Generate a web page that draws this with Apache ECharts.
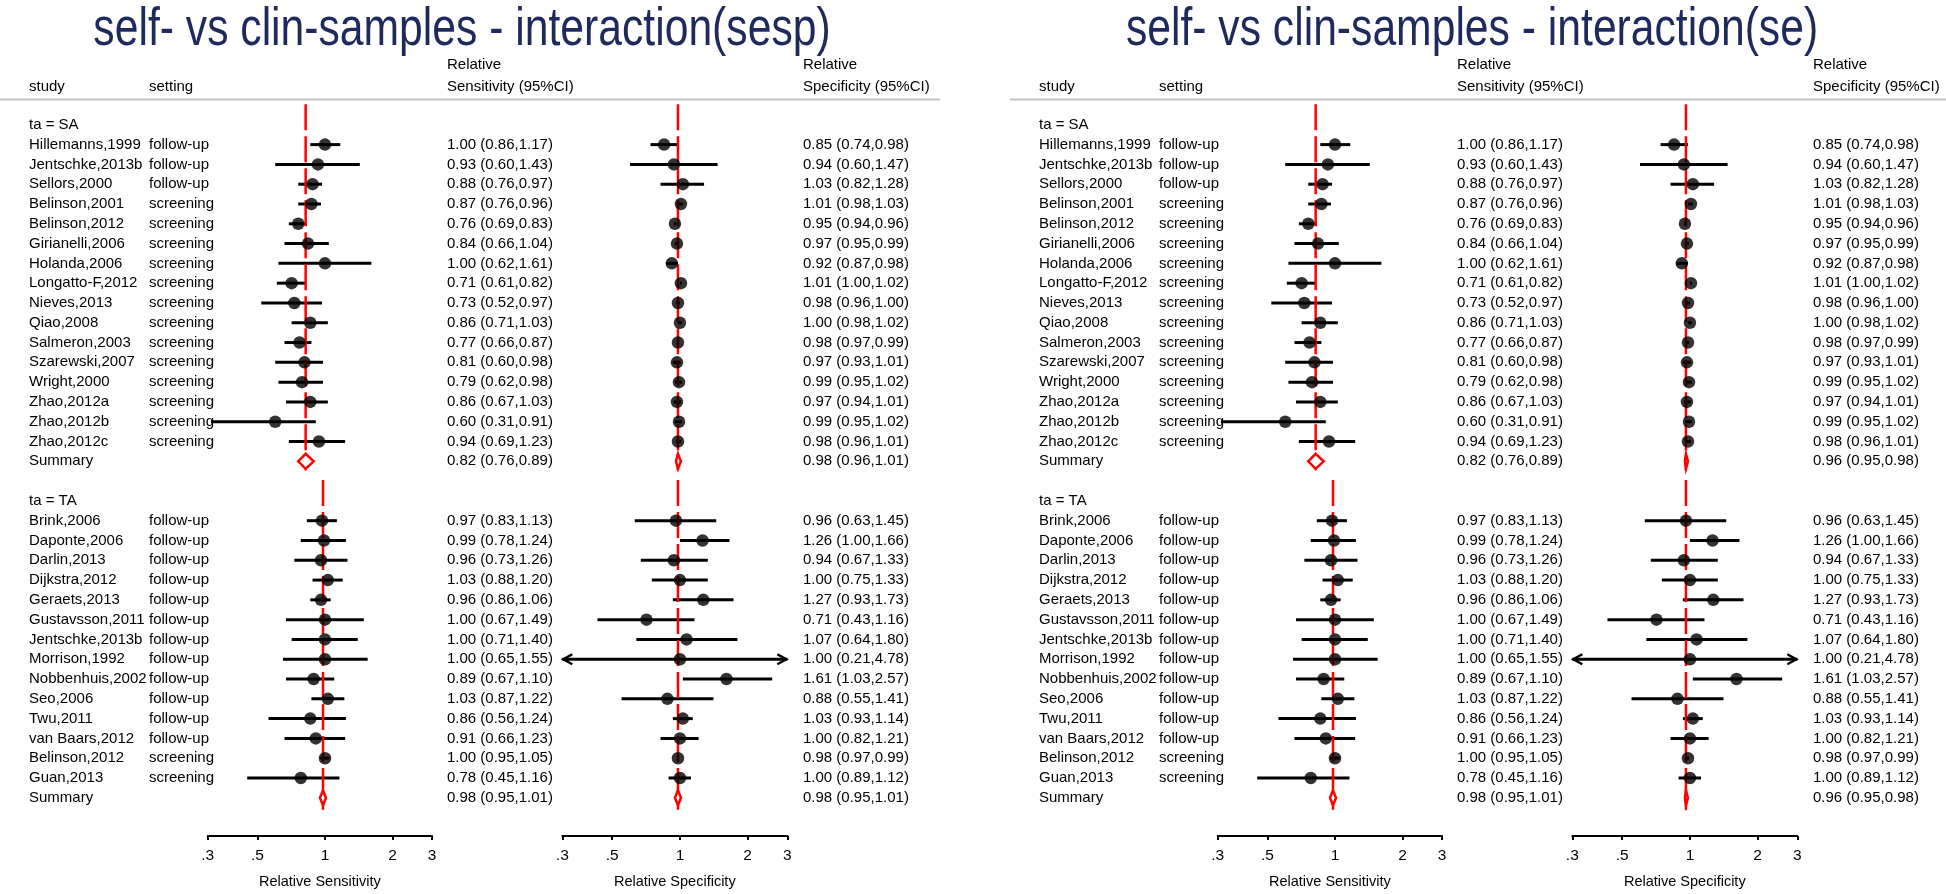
<!DOCTYPE html>
<html><head><meta charset="utf-8">
<script src="https://cdn.jsdelivr.net/npm/echarts@6/dist/echarts.min.js"></script>
<style>html,body{margin:0;padding:0;background:#fff}#c{width:1946px;height:894px}</style>
</head><body><div id="c"></div>
<script>
// ---------------- data ----------------
const saStudy = ['Hillemanns,1999','Jentschke,2013b','Sellors,2000','Belinson,2001','Belinson,2012','Girianelli,2006','Holanda,2006','Longatto-F,2012','Nieves,2013','Qiao,2008','Salmeron,2003','Szarewski,2007','Wright,2000','Zhao,2012a','Zhao,2012b','Zhao,2012c'];
const saSetting = ['follow-up','follow-up','follow-up','screening','screening','screening','screening','screening','screening','screening','screening','screening','screening','screening','screening','screening'];
const saSens   = [1.00,0.93,0.88,0.87,0.76,0.84,1.00,0.71,0.73,0.86,0.77,0.81,0.79,0.86,0.60,0.94];
const saSensLo = [0.86,0.60,0.76,0.76,0.69,0.66,0.62,0.61,0.52,0.71,0.66,0.60,0.62,0.67,0.31,0.69];
const saSensHi = [1.17,1.43,0.97,0.96,0.83,1.04,1.61,0.82,0.97,1.03,0.87,0.98,0.98,1.03,0.91,1.23];
const saSpec   = [0.85,0.94,1.03,1.01,0.95,0.97,0.92,1.01,0.98,1.00,0.98,0.97,0.99,0.97,0.99,0.98];
const saSpecLo = [0.74,0.60,0.82,0.98,0.94,0.95,0.87,1.00,0.96,0.98,0.97,0.93,0.95,0.94,0.95,0.96];
const saSpecHi = [0.98,1.47,1.28,1.03,0.96,0.99,0.98,1.02,1.00,1.02,0.99,1.01,1.02,1.01,1.02,1.01];

const taStudy = ['Brink,2006','Daponte,2006','Darlin,2013','Dijkstra,2012','Geraets,2013','Gustavsson,2011','Jentschke,2013b','Morrison,1992','Nobbenhuis,2002','Seo,2006','Twu,2011','van Baars,2012','Belinson,2012','Guan,2013'];
const taSetting = ['follow-up','follow-up','follow-up','follow-up','follow-up','follow-up','follow-up','follow-up','follow-up','follow-up','follow-up','follow-up','screening','screening'];
const taSens   = [0.97,0.99,0.96,1.03,0.96,1.00,1.00,1.00,0.89,1.03,0.86,0.91,1.00,0.78];
const taSensLo = [0.83,0.78,0.73,0.88,0.86,0.67,0.71,0.65,0.67,0.87,0.56,0.66,0.95,0.45];
const taSensHi = [1.13,1.24,1.26,1.20,1.06,1.49,1.40,1.55,1.10,1.22,1.24,1.23,1.05,1.16];
const taSpec   = [0.96,1.26,0.94,1.00,1.27,0.71,1.07,1.00,1.61,0.88,1.03,1.00,0.98,1.00];
const taSpecLo = [0.63,1.00,0.67,0.75,0.93,0.43,0.64,0.21,1.03,0.55,0.93,0.82,0.97,0.89];
const taSpecHi = [1.45,1.66,1.33,1.33,1.73,1.16,1.80,4.78,2.57,1.41,1.14,1.21,0.99,1.12];

// summaries [estimate, lower, upper]
const saSensSum     = [0.82,0.76,0.89];
const taSensSum     = [0.98,0.95,1.01];
const saSpecSumSesp = [0.98,0.96,1.01];
const taSpecSumSesp = [0.98,0.95,1.01];
const saSpecSumSe   = [0.96,0.95,0.98];
const taSpecSumSe   = [0.96,0.95,0.98];

const tickValues = [0.3,0.5,1,2,3];
const tickLabels = ['.3','.5','1','2','3'];
const titles = ['self- vs clin-samples - interaction(sesp)','self- vs clin-samples - interaction(se)'];

// ---------------- layout ----------------
const FONT = "'Liberation Sans', Arial, sans-serif";
const XMIN = 0.3, XMAX = 3;
const PANEL_OFF = [0, 1010];
const SENS_LEFT = 207.7, SENS_W = 224.3, SPEC_LEFT = 562.3, SPEC_W = 225;
const RH = 19.95, ROW0 = 125, YMIN = -1.2, YMAX = 35.93;
const GRID_TOP = ROW0 + YMIN * RH, GRID_H = (YMAX - YMIN) * RH;
const COLS = [29, 149, 447, 803];

const fmt = v => v.toFixed(2);
const ciText = (e, l, h) => fmt(e) + ' (' + fmt(l) + ',' + fmt(h) + ')';

function buildGroups(specSums) {
  return [
    {label:'ta = SA', head:0, study:saStudy, setting:saSetting, sens:saSens, sensLo:saSensLo, sensHi:saSensHi,
     spec:saSpec, specLo:saSpecLo, specHi:saSpecHi, sensSum:saSensSum, specSum:specSums[0], lineFrom:-1.04, lineTo:17.45},
    {label:'ta = TA', head:19, study:taStudy, setting:taSetting, sens:taSens, sensLo:taSensLo, sensHi:taSensHi,
     spec:taSpec, specLo:taSpecLo, specHi:taSpecHi, sensSum:taSensSum, specSum:specSums[1], lineFrom:17.94, lineTo:34.6}
  ];
}

function ciRender(params, api) {
  const lo = api.value(1), hi = api.value(2), row = api.value(3);
  const a = api.coord([Math.max(lo, XMIN), row]);
  const b = api.coord([Math.min(hi, XMAX), row]);
  const ch = [{type:'line', shape:{x1:a[0], y1:a[1], x2:b[0], y2:b[1]}, style:{stroke:'#000', lineWidth:3}}];
  if (lo < XMIN) ch.push({type:'polyline', shape:{points:[[a[0]+10,a[1]-5],[a[0]+1,a[1]],[a[0]+10,a[1]+5]]}, style:{stroke:'#000', fill:null, lineWidth:2.5}});
  if (hi > XMAX) ch.push({type:'polyline', shape:{points:[[b[0]-10,b[1]-5],[b[0]-1,b[1]],[b[0]-10,b[1]+5]]}, style:{stroke:'#000', fill:null, lineWidth:2.5}});
  return {type:'group', children:ch};
}
function diamondRender(params, api) {
  const e = api.value(0), lo = api.value(1), hi = api.value(2), row = api.value(3);
  const c = api.coord([e, row]), l = api.coord([lo, row]), r = api.coord([hi, row]);
  return {type:'polygon', shape:{points:[[l[0],c[1]],[c[0],c[1]-7.5],[r[0],c[1]],[c[0],c[1]+7.5]]},
          style:{fill:'#fff', stroke:'#ff0000', lineWidth:2.5}};
}

const grids = [], xAxes = [], yAxes = [], series = [], graphics = [];

PANEL_OFF.forEach((off, p) => {
  const groups = buildGroups(p === 0 ? [saSpecSumSesp, taSpecSumSesp] : [saSpecSumSe, taSpecSumSe]);
  const gi = grids.length;
  grids.push({left: off + SENS_LEFT, width: SENS_W, top: GRID_TOP, height: GRID_H, containLabel:false});
  grids.push({left: off + SPEC_LEFT, width: SPEC_W, top: GRID_TOP, height: GRID_H, containLabel:false});
  ['Relative Sensitivity','Relative Specificity'].forEach((nm, j) => {
    xAxes.push({
      gridIndex: gi + j, type:'log', logBase:10, min:XMIN, max:XMAX, position:'bottom',
      axisLine:{show:true, onZero:false, lineStyle:{color:'#000', width:2}},
      axisTick:{show:true, customValues:tickValues, length:4, lineStyle:{color:'#000', width:2}},
      axisLabel:{show:true, customValues:tickValues, margin:12, color:'#000', fontSize:15.5, fontFamily:FONT,
        formatter: v => { let k = 0; tickValues.forEach((t, i) => { if (Math.abs(t - v) < Math.abs(tickValues[k] - v)) k = i; }); return tickLabels[k]; }},
      splitLine:{show:false}, minorTick:{show:false},
      name:nm, nameLocation:'middle', nameGap:38, nameTextStyle:{color:'#000', fontSize:14.5, fontFamily:FONT}
    });
    yAxes.push({gridIndex: gi + j, type:'value', min:YMIN, max:YMAX, inverse:true, show:false});
  });

  const sensCI = [], specCI = [], sensPts = [], specPts = [], sensDia = [], specDia = [];
  const textRows = [];
  groups.forEach(g => {
    textRows.push({row:g.head, cells:[g.label,'','','']});
    g.study.forEach((s, i) => {
      const row = g.head + 1 + i;
      sensCI.push([g.sens[i], g.sensLo[i], g.sensHi[i], row]);
      specCI.push([g.spec[i], g.specLo[i], g.specHi[i], row]);
      sensPts.push([g.sens[i], row]);
      specPts.push([g.spec[i], row]);
      textRows.push({row, cells:[s, g.setting[i], ciText(g.sens[i], g.sensLo[i], g.sensHi[i]), ciText(g.spec[i], g.specLo[i], g.specHi[i])]});
    });
    const sr = g.head + 1 + g.study.length;
    sensDia.push([g.sensSum[0], g.sensSum[1], g.sensSum[2], sr]);
    specDia.push([g.specSum[0], g.specSum[1], g.specSum[2], sr]);
    textRows.push({row:sr, cells:['Summary','', ciText(...g.sensSum), ciText(...g.specSum)]});
    // red dashed reference lines at the group summary
    [[g.sensSum[0], gi], [g.specSum[0], gi + 1]].forEach(([v, ax]) => {
      series.push({type:'line', xAxisIndex:ax, yAxisIndex:ax, data:[[v, g.lineFrom],[v, g.lineTo]], symbol:'none', silent:true, z:3,
        lineStyle:{color:'#ff0000', width:2.5, type:[26,6]}});
    });
  });

  [[sensCI, gi], [specCI, gi + 1]].forEach(([d, ax]) => series.push({type:'custom', xAxisIndex:ax, yAxisIndex:ax, data:d, renderItem:ciRender, encode:{x:[0,1,2], y:3}, z:2, silent:true}));
  [[sensPts, gi], [specPts, gi + 1]].forEach(([d, ax]) => series.push({type:'scatter', xAxisIndex:ax, yAxisIndex:ax, data:d, symbol:'circle', symbolSize:12.5, itemStyle:{color:'#000'}, z:5, silent:true}));
  [[sensDia, gi], [specDia, gi + 1]].forEach(([d, ax]) => series.push({type:'custom', xAxisIndex:ax, yAxisIndex:ax, data:d, renderItem:diamondRender, encode:{x:[0,1,2], y:3}, z:4, silent:true}));

  series.push({type:'custom', xAxisIndex:gi, yAxisIndex:gi, data:textRows.map(r => [1, r.row]), encode:{x:0, y:1}, z:6, silent:true,
    renderItem: (params, api) => {
      const r = textRows[params.dataIndex];
      const y = api.coord([1, r.row])[1];
      return {type:'group', children: r.cells.map((t, j) => ({type:'text', x: off + COLS[j], y,
        style:{text:t, fill:'#000', fontSize:15, fontFamily:FONT, align:'left', verticalAlign:'middle'}}))};
    }});

  // title, headers, separator
  graphics.push({type:'text', x: off + 462, y: 30, scaleX: 0.79, style:{text:titles[p], fill:'#1f2a5c', fontSize:54, fontFamily:FONT, align:'center', verticalAlign:'middle'}});
  [['study', COLS[0], 87], ['setting', COLS[1], 87], ['Relative', COLS[2], 65], ['Sensitivity (95%CI)', COLS[2], 87],
   ['Relative', COLS[3], 65], ['Specificity (95%CI)', COLS[3], 87]].forEach(([t, x, y]) =>
    graphics.push({type:'text', x: off + x, y, style:{text:t, fill:'#000', fontSize:15, fontFamily:FONT, align:'left', verticalAlign:'middle'}}));
  graphics.push({type:'line', shape:{x1: off, y1: 99.5, x2: off + 940, y2: 99.5}, style:{stroke:'#c4c4c4', lineWidth:2}});
});

const chart = echarts.init(document.getElementById('c'), null, {renderer:'canvas'});
chart.setOption({
  animation:false, backgroundColor:'#fff',
  textStyle:{fontFamily:FONT},
  grid: grids, xAxis: xAxes, yAxis: yAxes, series, graphic: graphics
});
</script></body></html>
